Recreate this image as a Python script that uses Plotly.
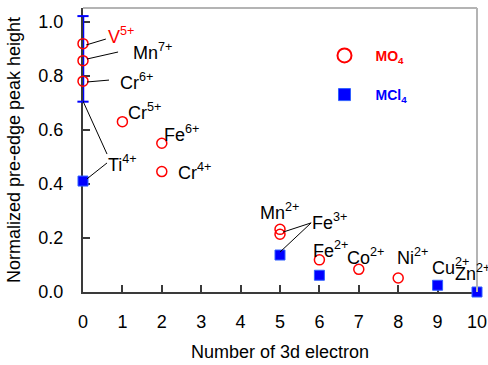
import plotly.graph_objects as go

# MO4 (red open circles)
mo4_x = [0, 0, 0, 1, 2, 2, 5, 5, 6, 7, 8]
mo4_y = [0.920, 0.857, 0.781, 0.631, 0.551, 0.446, 0.232, 0.214, 0.119, 0.084, 0.052]
# MCl4 (blue squares)
mcl4_x = [0, 5, 6, 9, 10]
mcl4_y = [0.411, 0.137, 0.062, 0.025, 0.0]
# vertical range bar at x = 0 (low and high ends)
bar_x = [0, 0]
bar_y = [0.705, 1.022]

x_ticks = [0, 1, 2, 3, 4, 5, 6, 7, 8, 9, 10]
y_ticks = [0.0, 0.2, 0.4, 0.6, 0.8, 1.0]
y_ticklabels = ["0.0", "0.2", "0.4", "0.6", "0.8", "1.0"]

FONT = "Liberation Sans, Arial, sans-serif"
RED = "#ff0000"
BLUE = "#0000ff"
DARK = "#3a3a3a"

fig = go.Figure()

fig.add_trace(go.Scatter(
    x=bar_x, y=bar_y, mode="lines+markers",
    line=dict(color=BLUE, width=2.5),
    marker=dict(symbol="line-ew-open", size=8, color=BLUE, line=dict(width=2, color=BLUE)),
    showlegend=False, hoverinfo="skip", cliponaxis=False))

fig.add_trace(go.Scatter(
    x=mo4_x, y=mo4_y, mode="markers", showlegend=False,
    marker=dict(symbol="circle-open", size=10, color=RED, line=dict(width=1.5, color=RED)),
    cliponaxis=False))

fig.add_trace(go.Scatter(
    x=mcl4_x, y=mcl4_y, mode="markers", showlegend=False,
    marker=dict(symbol="square", size=10, color=BLUE, line=dict(width=1, color="#3060ff")),
    cliponaxis=False))

# legend entries (larger symbols, as in the reference legend)
fig.add_trace(go.Scatter(
    x=[None], y=[None], mode="markers",
    name='<span style="color:#ff0000"><b>MO<sub>4</sub></b></span>',
    legendgroup="a",
    marker=dict(symbol="circle-open", size=14, color=RED, line=dict(width=2, color=RED))))
fig.add_trace(go.Scatter(
    x=[None], y=[None], mode="markers",
    name='<span style="color:#0000ff"><b>MCl<sub>4</sub></b></span>',
    legendgroup="b",
    marker=dict(symbol="square", size=12, color=BLUE, line=dict(width=1, color="#3060ff"))))

# labels: (text, x_left, y_center, color)
labels = [
    ("V<sup>5+</sup>", 0.58, 0.950, RED),
    ("Mn<sup>7+</sup>", 1.22, 0.890, "black"),
    ("Cr<sup>6+</sup>", 0.89, 0.778, "black"),
    ("Cr<sup>5+</sup>", 1.09, 0.667, "black"),
    ("Fe<sup>6+</sup>", 2.01, 0.586, "black"),
    ("Cr<sup>4+</sup>", 2.36, 0.445, "black"),
    ("Ti<sup>4+</sup>", 0.58, 0.475, "black"),
    ("Mn<sup>2+</sup>", 4.44, 0.297, "black"),
    ("Fe<sup>3+</sup>", 5.76, 0.260, "black"),
    ("Fe<sup>2+</sup>", 5.79, 0.156, "black"),
    ("Co<sup>2+</sup>", 6.65, 0.130, "black"),
    ("Ni<sup>2+</sup>", 7.92, 0.130, "black"),
    ("Cu<sup>2+</sup>", 8.81, 0.093, "black"),
    ("Zn<sup>2+</sup>", 9.40, 0.071, "black"),
]
for t, x, y, c in labels:
    fig.add_annotation(x=x, y=y, text=t, showarrow=False, xanchor="left", yanchor="middle",
                       font=dict(family=FONT, size=18, color=c))

# leader lines (x0, y0, x1, y1)
leaders = [
    (0.08, 0.915, 0.58, 0.937),
    (0.10, 0.863, 0.89, 0.889),
    (0.10, 0.778, 0.66, 0.785),
    (0.00, 0.707, 0.61, 0.511),
    (0.10, 0.419, 0.61, 0.478),
    (5.08, 0.222, 5.79, 0.256),
    (5.00, 0.148, 5.79, 0.256),
]
for x0, y0, x1, y1 in leaders:
    fig.add_shape(type="line", x0=x0, y0=y0, x1=x1, y1=y1, xref="x", yref="y",
                  line=dict(color="black", width=1))

# light frame on top and right
fig.add_shape(type="line", xref="paper", yref="paper", x0=0, x1=1, y0=1, y1=1,
              line=dict(color="#b4b4b4", width=2))
fig.add_shape(type="line", xref="paper", yref="paper", x0=1, x1=1, y0=0, y1=1,
              line=dict(color="#b4b4b4", width=2))

fig.update_layout(
    width=488, height=365,
    margin=dict(l=83, r=11, t=8, b=73),
    plot_bgcolor="white", paper_bgcolor="white",
    font=dict(family=FONT, color="black", size=18),
    showlegend=True,
    legend=dict(x=0.585, y=0.888, xanchor="left", yanchor="top",
                bgcolor="rgba(0,0,0,0)", font=dict(size=14, family=FONT),
                tracegroupgap=18, itemwidth=52),
    xaxis=dict(range=[0, 10], tickvals=x_ticks, ticks="inside", ticklen=7,
               tickcolor=DARK, tickwidth=1.5, showline=True, linecolor=DARK, linewidth=2,
               showgrid=False, zeroline=False, tickfont=dict(size=18), automargin=False,
               layer="below traces",
               title=dict(text="Number of 3d electron", font=dict(size=18), standoff=15),
               ticklabelstandoff=12),
    yaxis=dict(range=[0, 1.052], tickvals=y_ticks, ticktext=y_ticklabels, ticks="inside",
               ticklen=7, tickcolor=DARK, tickwidth=1.5, showline=True, linecolor=DARK,
               linewidth=2, showgrid=False, zeroline=False, tickfont=dict(size=18),
               automargin=False, layer="below traces",
               title=dict(text="Normalized pre-edge peak height", font=dict(size=18), standoff=13),
               ticklabelstandoff=14),
)

fig.write_html("out.html")
